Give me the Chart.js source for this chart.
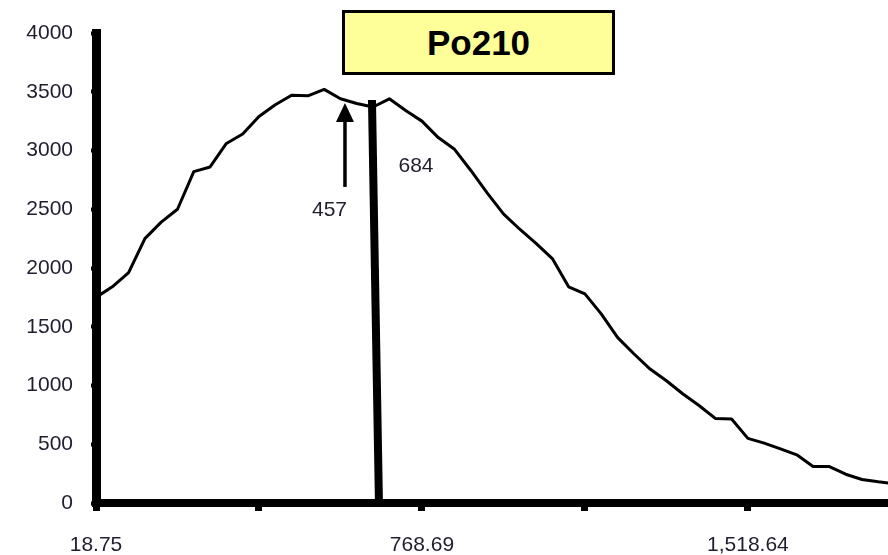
<!DOCTYPE html>
<html>
<head>
<meta charset="utf-8">
<script src="https://cdn.jsdelivr.net/npm/chart.js@4"></script>
<style>
    body { margin: 0; background: #fff; }
    #wrap { position: relative; width: 888px; height: 555px; }
    #titulo {
        position: absolute; left: 342px; top: 10px; width: 267px; height: 59px;
        background: #ffff99; border: 3px solid #000;
        font: bold 35px "Liberation Sans", Arial, sans-serif; color: #000;
        text-align: center; line-height: 59px;
    }
</style>
</head>
<body>
<div id="wrap">
    <canvas id="grafica" width="888" height="555"></canvas>
    <div id="titulo">Po210</div>
</div>
<script>
// canales (energia) y cuentas
var canales = [18.75, 56.25, 93.75, 131.24, 168.74, 206.24, 243.74, 281.24, 318.73, 356.23,
    393.72, 431.22, 468.72, 506.22, 543.72, 581.21, 618.71, 656.21, 693.70, 731.20,
    768.69, 806.19, 843.69, 881.19, 918.68, 956.18, 993.68, 1031.18, 1068.67, 1106.17,
    1143.67, 1181.17, 1218.66, 1256.16, 1293.66, 1331.16, 1368.65, 1406.15, 1443.65, 1481.15,
    1518.64, 1556.14, 1593.64, 1631.14, 1668.63, 1706.13, 1743.63, 1781.13, 1818.62, 1856.12];
var cuentas = [1750, 1840, 1960, 2250, 2390, 2500, 2820, 2860, 3060, 3140,
    3290, 3390, 3470, 3465, 3520, 3440, 3400, 3370, 3440, 3340,
    3250, 3110, 3010, 2830, 2640, 2460, 2330, 2210, 2080, 1840,
    1780, 1610, 1410, 1270, 1140, 1040, 930, 830, 720, 715,
    550, 510, 460, 410, 310, 310, 245, 200, 180, 165];

var ticksX = [18.75, 393.72, 768.69, 1143.67, 1518.64];
var etiquetasX = ['18.75', '', '768.69', '', '1,518.64'];

// linea vertical (684) y flecha (457)
var lineaX = [653.7, 669.8];
var lineaY = [3430, 0];
var flechaX = [591.6, 591.6];
var flechaY = [2690, 3404];
var notas = [
    { texto: '457', x: 556, y: 2494 },
    { texto: '684', x: 755, y: 2868 }
];

var fuente = '"Liberation Sans", Arial, sans-serif';

var puntos = canales.map(function (c, i) { return { x: c, y: cuentas[i] }; });
var puntosLinea = lineaX.map(function (v, i) { return { x: v, y: lineaY[i] }; });

var pluginNotas = {
    id: 'notas',
    afterDatasetsDraw: function (chart) {
        var ctx = chart.ctx;
        var sx = chart.scales.x, sy = chart.scales.y;
        ctx.save();
        // flecha
        var x = sx.getPixelForValue(flechaX[0]);
        var y0 = sy.getPixelForValue(flechaY[0]);
        var y1 = sy.getPixelForValue(flechaY[1]);
        ctx.strokeStyle = '#000';
        ctx.lineWidth = 3.5;
        ctx.beginPath();
        ctx.moveTo(x, y0);
        ctx.lineTo(x, y1 + 14);
        ctx.stroke();
        ctx.fillStyle = '#000';
        ctx.beginPath();
        ctx.moveTo(x, y1);
        ctx.lineTo(x - 9, y1 + 19);
        ctx.lineTo(x + 9, y1 + 19);
        ctx.closePath();
        ctx.fill();
        // textos
        ctx.font = '21px ' + fuente;
        ctx.fillStyle = '#1e1e2e';
        ctx.textAlign = 'center';
        ctx.textBaseline = 'middle';
        notas.forEach(function (n) {
            ctx.fillText(n.texto, sx.getPixelForValue(n.x), sy.getPixelForValue(n.y));
        });
        ctx.restore();
    }
};

var ctx = document.getElementById('grafica').getContext('2d');
var chart = new Chart(ctx, {
    type: 'line',
    data: {
        datasets: [{
            data: puntos,
            borderColor: '#000',
            borderWidth: 3,
            borderJoinStyle: 'round',
            pointRadius: 0,
            tension: 0,
            fill: false
        }, {
            data: puntosLinea,
            borderColor: '#000',
            borderWidth: 8,
            pointRadius: 0,
            tension: 0,
            fill: false
        }]
    },
    options: {
        responsive: false,
        animation: false,
        layout: { padding: { top: 33, right: 0, bottom: 0, left: 0 } },
        plugins: {
            legend: { display: false },
            tooltip: { enabled: false }
        },
        scales: {
            x: {
                type: 'linear',
                min: 18.75,
                max: 1841,
                afterBuildTicks: function (scale) {
                    scale.ticks = ticksX.map(function (v) { return { value: v }; });
                },
                afterFit: function (scale) { scale.height = 52; },
                ticks: {
                    autoSkip: false,
                    maxRotation: 0,
                    padding: 22,
                    color: '#1e1e2e',
                    font: { family: fuente, size: 21 },
                    callback: function (v, i) { return etiquetasX[i]; }
                },
                grid: {
                    drawOnChartArea: false,
                    tickLength: 8,
                    tickWidth: 7,
                    tickColor: '#000'
                },
                border: { display: true, color: '#000', width: 8 }
            },
            y: {
                min: 0,
                max: 4000,
                afterFit: function (scale) { scale.width = 96; },
                ticks: {
                    stepSize: 500,
                    padding: 18,
                    color: '#1e1e2e',
                    font: { family: fuente, size: 21 },
                    callback: function (v) { return String(v); }
                },
                grid: {
                    drawOnChartArea: false,
                    tickLength: 5,
                    tickWidth: 4,
                    tickColor: '#000'
                },
                border: { display: true, color: '#000', width: 9 }
            }
        }
    },
    plugins: [pluginNotas]
});
</script>
</body>
</html>
